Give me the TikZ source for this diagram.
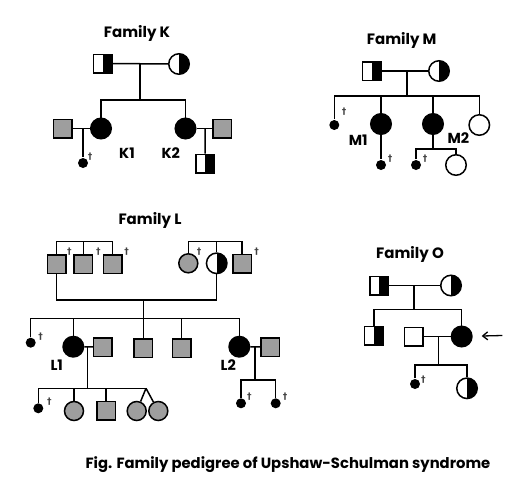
\documentclass[tikz,border=0pt]{standalone}
\usepackage{fontspec}
\setmainfont{Poppins}
\newfontfamily\dagfont{DejaVu Sans}
\usetikzlibrary{positioning,calc,arrows.meta}

\begin{document}
\begin{tikzpicture}[x=1pt,y=-1pt,line width=1.5pt,
    male/.style={draw,rectangle,minimum size=18.5pt,inner sep=0pt},
    female/.style={draw,circle,minimum size=20.5pt,inner sep=0pt},
    dead/.style={circle,fill=black,minimum size=10pt,inner sep=0pt},
    aff/.style={fill=black},
    carrier/.style={path picture={\fill[black] (path picture bounding box.north) rectangle (path picture bounding box.south east);}},
    grayed/.style={fill=black!38},
    title/.style={font=\bfseries\fontsize{15}{15}\selectfont},
    lab/.style={font=\bfseries\fontsize{14.5}{14.5}\selectfont},
    dg/.style={font=\dagfont\bfseries\fontsize{9}{9}\selectfont,text=black!75,inner sep=0pt}]
  \useasboundingbox[fill=white] (0,0) rectangle (520,488);

  % Family K
  \node[title] (tk) at (137,33) {Family K};
  \node[male,carrier] (kf) at (102.5,63.5) {};
  \node[female,carrier] (km) at (179,64) {};
  \coordinate (kc) at (140,64);
  \coordinate (ks) at (140,100);
  \node[female,aff] (k1) at (101,128.5) {};
  \node[female,aff] (k2) at (185.5,128.5) {};
  \node[male,grayed] (k1h) at (62.5,128.5) {};
  \node[male,grayed] (k2h) at (222,128.5) {};
  \coordinate (k1c) at (83,128.5);
  \coordinate (k2c) at (205,128.5);
  \node[dead] (k1a) at (83,163) {};
  \node[dg] (k1d) at (90,156.7) {†};
  \node[male,carrier] (k2a) at (205.3,163.7) {};
  \node[lab] (lk1) at (127,153) {K1};
  \node[lab] (lk2) at (170.7,153) {K2};
  \draw (kf) -- (km);
  \draw (kc) -- (ks);
  \draw (k1) |- (ks) -| (k2);
  \draw (k1h) -- (k1);
  \draw (k1c) -- (k1a);
  \draw (k2) -- (k2h);
  \draw (k2c) -- (k2a);

  % Family M
  \node[title] (tm) at (401.7,40.7) {Family M};
  \node[male,carrier] (mf) at (371.7,71) {};
  \node[female,carrier] (mm) at (439,71) {};
  \coordinate (mc) at (407,71);
  \coordinate (ms) at (407,96);
  \node[dead] (m1) at (334.3,125) {};
  \node[dg] (m1d) at (344,111.7) {†};
  \node[female,aff] (m2) at (381,124) {};
  \node[dead] (m2a) at (381,165) {};
  \node[dg] (m2d) at (390,158.3) {†};
  \node[female,aff] (m3) at (433,124) {};
  \coordinate (m3j) at (433,149);
  \node[dead] (m3a) at (416,165) {};
  \node[dg] (m3d) at (425,158.3) {†};
  \node[female] (m3b) at (456,165) {};
  \node[female] (m4) at (479.3,125) {};
  \node[lab] (lm1) at (358.3,140) {M1};
  \node[lab] (lm2) at (458.3,138.3) {M2};
  \draw (mf) -- (mm);
  \draw (mc) -- (ms);
  \draw (m1) |- (ms) -| (m4);
  \draw (ms) -| (m2);
  \draw (ms) -| (m3);
  \draw (m2) -- (m2a);
  \draw (m3) -- (m3j);
  \draw (m3a) |- (m3j) -| (m3b);

  % Family L
  \node[title] (tl) at (150,220) {Family L};
  \node[male,grayed] (la1) at (56.7,264) {};
  \node[male,grayed] (la2) at (83.3,264) {};
  \node[male,grayed] (la3) at (112.5,264) {};
  \coordinate (lt) at (83.3,241.7);
  \node[dg] (la1d) at (69.3,251.7) {†};
  \node[dg] (la2d) at (98.3,251.7) {†};
  \node[dg] (la3d) at (126.7,251.7) {†};
  \node[female,grayed,minimum size=19pt] (lb1) at (188.3,263.3) {};
  \node[female,carrier] (lb2) at (216.7,263.3) {};
  \node[male,grayed] (lb3) at (242,263.5) {};
  \coordinate (lu) at (216.7,241.7);
  \node[dg] (lb1d) at (199,251.7) {†};
  \node[dg] (lb3d) at (256.7,251.7) {†};
  \draw (la1) |- (lt) -| (la3);
  \draw (lt) -- (la2);
  \draw (lb1) |- (lu) -| (lb3);
  \draw (lu) -- (lb2);
  \coordinate (lm) at (143.3,300);
  \coordinate (ls) at (143.3,318.3);
  \draw (la1) |- (lm) -| (lb2);
  \draw (lm) -- (ls);
  \node[dead] (lc1) at (30.7,342.7) {};
  \node[dg] (lc1d) at (40.7,336.7) {†};
  \node[female,aff] (l1) at (73.3,346.7) {};
  \node[male,grayed] (lc3) at (143.3,348) {};
  \node[male,grayed] (lc4) at (181.7,348) {};
  \node[female,aff] (l2) at (239.3,346.7) {};
  \node[lab] (ll1) at (56.7,365) {L1};
  \node[lab] (ll2) at (228.3,365) {L2};
  \draw (lc1) |- (ls) -| (l2);
  \draw (ls) -| (l1);
  \draw (ls) -- (lc3);
  \draw (ls) -| (lc4);
  % L1 line
  \node[male,grayed] (l1h) at (102.8,347) {};
  \coordinate (l1c) at (87.7,347);
  \coordinate (l1s) at (87.7,388.3);
  \coordinate (lw) at (146,388.3);
  \node[dead] (ld1) at (38.3,408.3) {};
  \node[dg] (ld1d) at (49.3,401.7) {†};
  \node[female,grayed,minimum size=19pt] (ld2) at (74,411) {};
  \node[male,grayed] (ld3) at (106,410.8) {};
  \node[female,grayed,minimum size=19pt] (ld4) at (136.7,411) {};
  \node[female,grayed,minimum size=19pt] (ld5) at (158.3,411) {};
  \draw (l1) -- (l1h);
  \draw (l1c) -- (l1s);
  \draw (ld1) |- (lw);
  \draw (lw) -| (ld2);
  \draw (lw) -| (ld3);
  \draw (lw) -- (ld4);
  \draw (lw) -- (ld5);
  % L2 line
  \node[male,grayed] (l2h) at (270,347) {};
  \coordinate (l2c) at (255,347);
  \coordinate (l2s) at (255,380);
  \node[dead] (le1) at (241,403.3) {};
  \node[dead] (le2) at (275.7,403.3) {};
  \node[dg] (le1d) at (249.3,396.7) {†};
  \node[dg] (le2d) at (285,396.7) {†};
  \draw (l2) -- (l2h);
  \draw (l2c) -- (l2s);
  \draw (le1) |- (l2s) -| (le2);

  % Family O
  \node[title] (to) at (410,254) {Family O};
  \node[male,carrier] (of) at (379.3,285.5) {};
  \node[female,carrier] (om) at (451,285.5) {};
  \coordinate (oc) at (414,285.5);
  \coordinate (os) at (414,309.3);
  \node[male,carrier] (o1) at (373.8,335.8) {};
  \node[female,aff] (o2) at (461.7,336.5) {};
  \node[male] (oh) at (413.7,336.5) {};
  \coordinate (ocx) at (438.3,336.5);
  \coordinate (oj) at (438.3,365);
  \node[dead] (od1) at (415,384) {};
  \node[dg] (od1d) at (423.3,379.3) {†};
  \node[female,carrier] (od2) at (467,388.3) {};
  \coordinate (oa) at (502.3,335.5);
  \draw (of) -- (om);
  \draw (oc) -- (os);
  \draw (o1) |- (os) -| (o2);
  \draw (oh) -- (o2);
  \draw (ocx) -- (oj);
  \draw (od1) |- (oj) -| (od2);
  \draw[-{Straight Barb[length=5pt,width=8pt]},line width=1.3pt,shorten >=9pt] (oa) -- (o2);

  \node[font=\bfseries\fontsize{14.8}{15}\selectfont] (cap) at (288,465) {Fig. Family pedigree of Upshaw-Schulman syndrome};
\end{tikzpicture}
\end{document}
